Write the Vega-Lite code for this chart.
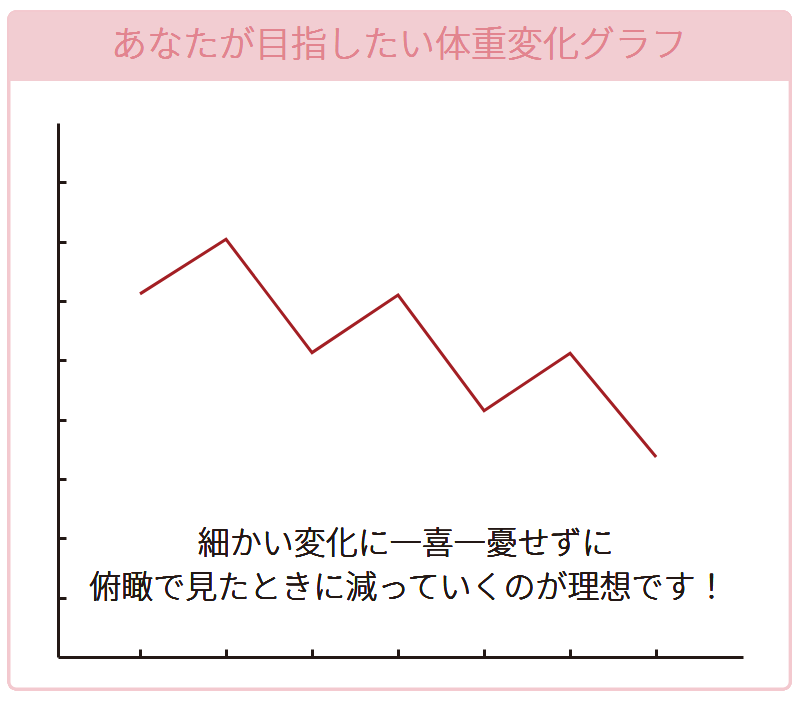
{
  "$schema": "https://vega.github.io/schema/vega-lite/v6.json",
  "width": 685,
  "height": 534,
  "autosize": {"type": "none"},
  "padding": {"left": 58, "top": 123, "right": 57, "bottom": 50},
  "background": "#ffffff",
  "config": {"view": {"stroke": null}, "font": "Noto Sans CJK JP"},
  "data": {"values": [
    {"point": 1, "weight": 6.12},
    {"point": 2, "weight": 7.04},
    {"point": 3, "weight": 5.13},
    {"point": 4, "weight": 6.1},
    {"point": 5, "weight": 4.15},
    {"point": 6, "weight": 5.12},
    {"point": 7, "weight": 3.37}
  ]},
  "layer": [
    {
      "mark": {"type": "rect", "fill": "#ffffff", "stroke": "#f3c9cf", "strokeWidth": 3, "cornerRadius": 7},
      "encoding": {
        "x": {"datum": -0.523, "type": "quantitative", "scale": {"domain": [0.0465, 8.01], "nice": false, "zero": false}},
        "x2": {"datum": 8.558},
        "y": {"datum": -0.539, "type": "quantitative", "scale": {"domain": [0, 9], "nice": false, "zero": false}},
        "y2": {"datum": 10.871}
      }
    },
    {
      "mark": {"type": "rect", "fill": "#f2cdd2", "cornerRadiusTopLeft": 7, "cornerRadiusTopRight": 7},
      "encoding": {
        "x": {"datum": -0.523, "type": "quantitative", "scale": {"domain": [0.0465, 8.01], "nice": false, "zero": false}},
        "x2": {"datum": 8.558},
        "y": {"datum": 9.708, "type": "quantitative", "scale": {"domain": [0, 9], "nice": false, "zero": false}},
        "y2": {"datum": 10.871}
      }
    },
    {
      "mark": {"type": "text", "text": "あなたが目指したい体重変化グラフ", "fontSize": 36, "fontWeight": 300, "color": "#e2848f", "align": "center", "baseline": "middle"},
      "encoding": {
        "x": {"datum": 4.01, "type": "quantitative", "scale": {"domain": [0.0465, 8.01], "nice": false, "zero": false}},
        "y": {"datum": 10.3, "type": "quantitative", "scale": {"domain": [0, 9], "nice": false, "zero": false}}
      }
    },
    {
      "mark": {"type": "line", "color": "#a31f24", "strokeWidth": 3},
      "encoding": {
        "x": {"field": "point", "type": "quantitative", "scale": {"domain": [0.0465, 8.01], "nice": false, "zero": false},
          "axis": {"title": null, "labels": false, "grid": false, "values": [1, 2, 3, 4, 5, 6, 7], "tickSize": -8, "tickWidth": 3, "tickColor": "#231815", "domainWidth": 3, "domainColor": "#231815", "zindex": 1}},
        "y": {"field": "weight", "type": "quantitative", "scale": {"domain": [0, 9], "nice": false, "zero": false},
          "axis": {"title": null, "labels": false, "grid": false, "values": [1, 2, 3, 4, 5, 6, 7, 8], "tickSize": -8, "tickWidth": 3, "tickColor": "#231815", "domainWidth": 3, "domainColor": "#231815", "zindex": 1}}
      }
    },
    {
      "mark": {"type": "text", "text": "細かい変化に一喜一憂せずに", "fontSize": 32, "fontWeight": 300, "color": "#231815", "align": "center", "baseline": "middle"},
      "encoding": {
        "x": {"datum": 4.09, "type": "quantitative", "scale": {"domain": [0.0465, 8.01], "nice": false, "zero": false}},
        "y": {"datum": 1.905, "type": "quantitative", "scale": {"domain": [0, 9], "nice": false, "zero": false}}
      }
    },
    {
      "mark": {"type": "text", "text": "俯瞰で見たときに減っていくのが理想です！", "fontSize": 32, "fontWeight": 300, "color": "#231815", "align": "center", "baseline": "middle"},
      "encoding": {
        "x": {"datum": 4.12, "type": "quantitative", "scale": {"domain": [0.0465, 8.01], "nice": false, "zero": false}},
        "y": {"datum": 1.163, "type": "quantitative", "scale": {"domain": [0, 9], "nice": false, "zero": false}}
      }
    }
  ]
}
